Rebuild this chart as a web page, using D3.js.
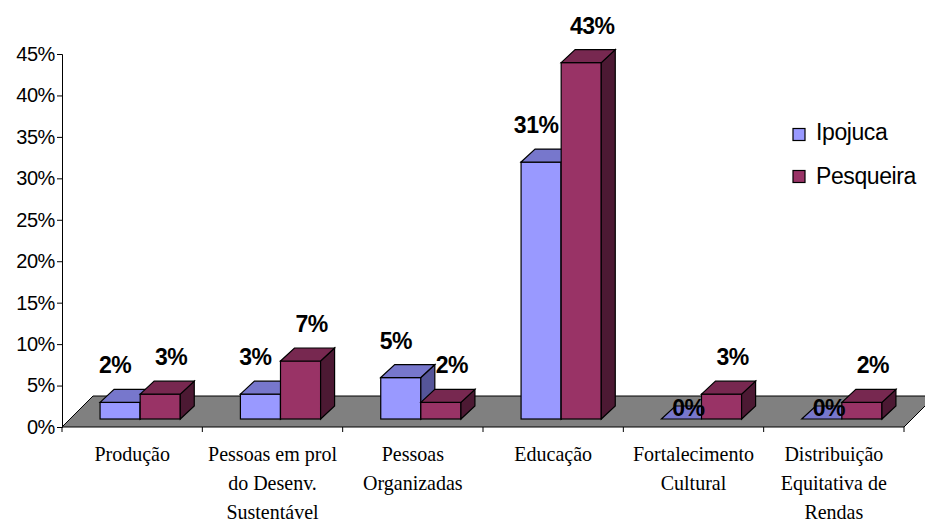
<!DOCTYPE html>
<html>
<head>
<meta charset="utf-8">
<script src="https://cdn.jsdelivr.net/npm/d3@7"></script>
<style>
  html, body { margin: 0; padding: 0; background: #fff; }
  svg { display: block; }
</style>
</head>
<body>
<svg id="chart" width="925" height="525"></svg>
<script>
// Category labels, split into their printed lines
const categories = [
  ["Produção"],
  ["Pessoas em prol", "do Desenv.", "Sustentável"],
  ["Pessoas", "Organizadas"],
  ["Educação"],
  ["Fortalecimento", "Cultural"],
  ["Distribuição", "Equitativa de", "Rendas"]
];
const seriesNames = ["Ipojuca", "Pesqueira"];
const ipojuca = [2, 3, 5, 31, 0, 0];
const pesqueira = [3, 7, 2, 43, 3, 2];
const yTickValues = [0, 5, 10, 15, 20, 25, 30, 35, 40, 45];

// Face colours for each series: front, top, side
const palette = {
  Ipojuca:   { front: "#9999ff", top: "#7777cc", side: "#555599" },
  Pesqueira: { front: "#993366", top: "#772850", side: "#4c1933" }
};

const svg = d3.select("#chart");

// Plot geometry (front plane of the floor)
const left = 62, right = 904, base = 427, topY = 54;
const floorDepth = 31;          // oblique depth of the floor
const barShift = 8;             // bars sit a little behind the front edge
const barDepth = 14, barRise = 13;

const y = d3.scaleLinear().domain([0, 45]).range([base, topY]);
const x0 = d3.scaleBand().domain(d3.range(categories.length)).range([left, right]).paddingInner(0).paddingOuter(0);
const x1 = d3.scaleBand().domain(seriesNames).range([0, x0.bandwidth()]).paddingInner(0).paddingOuter(0.75);

// Floor
svg.append("path")
  .attr("d", `M${left},${base} L${right},${base} L${right + floorDepth},${base - floorDepth} L${left + floorDepth},${base - floorDepth} Z`)
  .attr("fill", "#808080")
  .attr("stroke", "#000")
  .attr("stroke-width", 1);

// Category axis ticks along the floor front edge
svg.append("g")
  .selectAll("line")
  .data(d3.range(categories.length + 1))
  .join("line")
  .attr("x1", i => i < categories.length ? x0(i) : right)
  .attr("x2", i => i < categories.length ? x0(i) : right)
  .attr("y1", base)
  .attr("y2", base + 5)
  .attr("stroke", "#000");

// Value axis
const yAxis = d3.axisLeft(y).tickValues(yTickValues).tickSize(5).tickPadding(2)
  .tickFormat(d => d + "%");
const yg = svg.append("g").attr("transform", `translate(${left},0)`).call(yAxis);
yg.select(".domain").attr("stroke", "#000");
yg.selectAll(".tick line").attr("stroke", "#000");
yg.selectAll(".tick text")
  .attr("font-family", "'Liberation Sans', Arial, sans-serif")
  .attr("font-size", 20)
  .attr("letter-spacing", "-0.4px")
  .attr("fill", "#000");

// Bars
const rows = [];
seriesNames.forEach((s, si) => {
  const vals = si === 0 ? ipojuca : pesqueira;
  vals.forEach((v, ci) => rows.push({ series: s, cat: ci, value: v }));
});

const barW = x1.bandwidth();
const bars = svg.append("g");
rows.forEach(d => {
  const bx = x0(d.cat) + x1(d.series) + barShift;
  const yb = y(0) - barShift;
  const yt = y(d.value) - barShift;
  const c = palette[d.series];
  const g = bars.append("g");
  if (d.value > 0) {
    g.append("rect")
      .attr("x", bx).attr("y", yt).attr("width", barW).attr("height", yb - yt)
      .attr("fill", c.front).attr("stroke", "#000").attr("stroke-width", 1.2);
    g.append("path")
      .attr("d", `M${bx + barW},${yt} L${bx + barW + barDepth},${yt - barRise} L${bx + barW + barDepth},${yb - barRise} L${bx + barW},${yb} Z`)
      .attr("fill", c.side).attr("stroke", "#000").attr("stroke-width", 1.2);
  }
  g.append("path")
    .attr("d", `M${bx},${yt} L${bx + barDepth},${yt - barRise} L${bx + barW + barDepth},${yt - barRise} L${bx + barW},${yt} Z`)
    .attr("fill", c.top).attr("stroke", "#000").attr("stroke-width", 1.2);
});

// Value labels
const labelOffset = { Ipojuca: -12, Pesqueira: 4 };
svg.append("g")
  .selectAll("text")
  .data(rows)
  .join("text")
  .attr("x", d => x0(d.cat) + x1(d.series) + barShift + barW / 2 + barDepth / 2 + (d.value > 0 ? labelOffset[d.series] : 0))
  .attr("y", d => d.value > 0
    ? y(d.value) - barShift - barRise - 16
    : y(0) - barShift - barRise / 2 + 3)
  .attr("text-anchor", "middle")
  .attr("font-family", "'Liberation Sans', Arial, sans-serif")
  .attr("font-weight", "bold")
  .attr("font-size", 23)
  .attr("letter-spacing", "-0.5px")
  .attr("fill", "#000")
  .text(d => d.value + "%");

// Category labels (slightly condensed serif)
const catG = svg.append("g");
categories.forEach((lines, i) => {
  const cx = x0(i) + x0.bandwidth() / 2;
  const t = catG.append("text")
    .attr("transform", `translate(${cx},461) scale(0.91,1)`)
    .attr("text-anchor", "middle")
    .attr("font-family", "'Liberation Serif', 'Times New Roman', serif")
    .attr("font-size", 22)
    .attr("fill", "#000");
  lines.forEach((ln, k) => {
    t.append("tspan").attr("x", 0).attr("y", k * 29).text(ln);
  });
});

// Legend
const legend = svg.append("g");
seriesNames.forEach((s, i) => {
  const ly = 128.5 + i * 42;
  legend.append("rect")
    .attr("x", 793).attr("y", ly).attr("width", 12).attr("height", 12)
    .attr("fill", palette[s].front).attr("stroke", "#000").attr("stroke-width", 1.2);
  legend.append("text")
    .attr("x", 816).attr("y", ly + 11 + i * 2.5)
    .attr("font-family", "'Liberation Sans', Arial, sans-serif")
    .attr("font-size", 23)
    .attr("letter-spacing", "-0.4px")
    .attr("fill", "#000")
    .text(s);
});
</script>
</body>
</html>
